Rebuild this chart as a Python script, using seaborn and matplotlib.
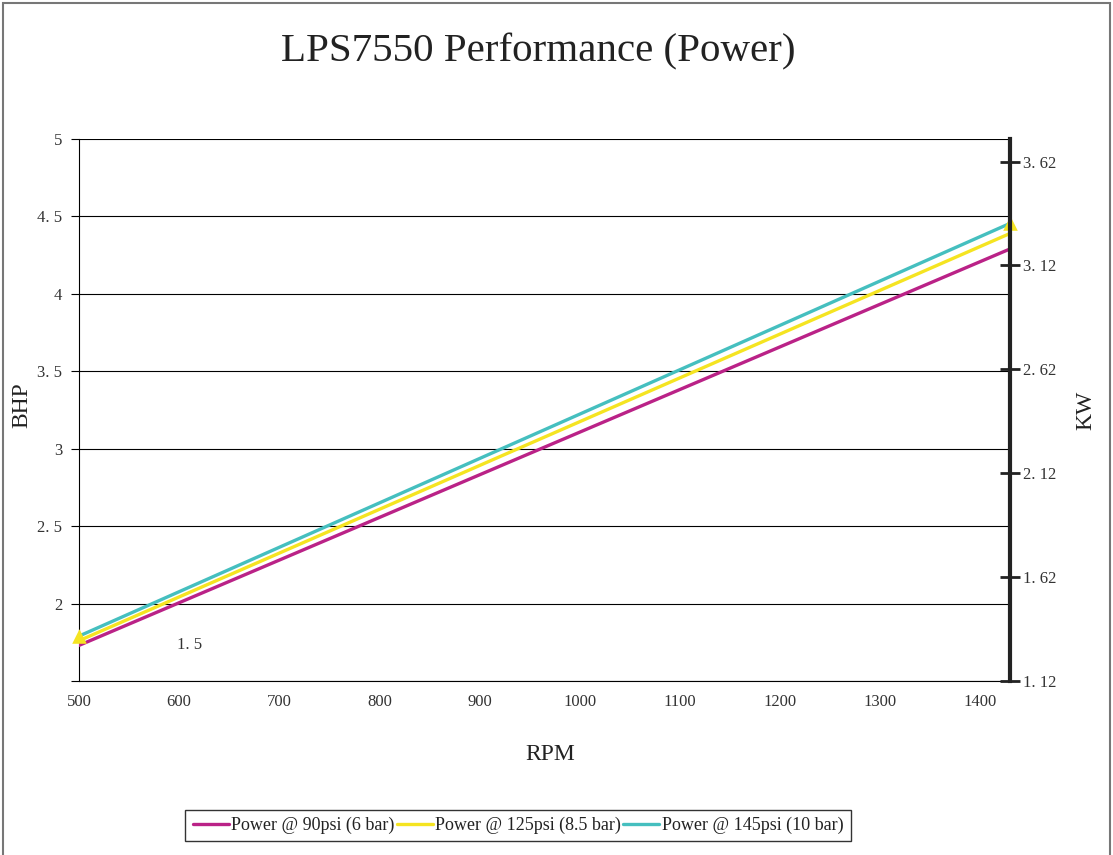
import numpy as np
import pandas as pd
import matplotlib
matplotlib.use("Agg")
import matplotlib.pyplot as plt
from matplotlib.patches import Rectangle
from matplotlib.lines import Line2D
import seaborn as sns

# ---- data ----
rpm = [500, 1400]
bhp_90psi = [1.73, 4.29]
bhp_125psi = [1.76, 4.39]
bhp_145psi = [1.79, 4.455]
series_names = ["Power @ 90psi (6 bar)", "Power @ 125psi (8.5 bar)", "Power @ 145psi (10 bar)"]

x_ticks = [500, 600, 700, 800, 900, 1000, 1100, 1200, 1300, 1400]
x_tick_labels = ["500", "600", "700", "800", "900", "1000", "1100", "1200", "1300", "1400"]
bhp_ticks = [1.5, 2, 2.5, 3, 3.5, 4, 4.5, 5]
bhp_tick_labels = ["", "2", "2. 5", "3", "3. 5", "4", "4. 5", "5"]
kw_ticks = [1.12, 1.62, 2.12, 2.62, 3.12, 3.62]
kw_tick_labels = ["1. 12", "1. 62", "2. 12", "2. 62", "3. 12", "3. 62"]
BHP_TO_KW = 0.7457

colors = ["#BA2287", "#F5E421", "#45BFBF"]

df = pd.DataFrame({
    "RPM": rpm * 3,
    "BHP": bhp_90psi + bhp_125psi + bhp_145psi,
    "Series": [series_names[0]] * 2 + [series_names[1]] * 2 + [series_names[2]] * 2,
})

sns.set_theme(style="white")
plt.rcParams['font.family'] = ['Liberation Serif', 'DejaVu Serif']

W, H = 1113, 855
fig = plt.figure(figsize=(W / 100, H / 100), dpi=100)
ax = fig.add_axes([79 / W, 1 - 681 / H, (1010 - 79) / W, (681 - 139) / H])

sns.lineplot(data=df, x="RPM", y="BHP", hue="Series", hue_order=series_names,
             palette=colors, linewidth=2.4, ax=ax, legend=False, zorder=3)
ax.scatter([rpm[0], rpm[-1]], [bhp_145psi[0], bhp_145psi[-1]], marker="^", s=110,
           color="#F5E421", zorder=5, clip_on=False, linewidths=0)

ax.set_xlim(500, 1400)
ax.set_ylim(1.5, 5)
ax.set_yticks(bhp_ticks)
ax.set_yticklabels(bhp_tick_labels)
ax.grid(axis="y", color="black", linewidth=0.8)
ax.grid(axis="x", visible=False)

# x ticks: marks at data positions, labels slightly shifted as in the original
ax.xaxis.remove_overlapping_locs = False
ax.set_xticks(x_ticks)
ax.set_xticklabels([""] * len(x_ticks))
label_pos = [500 + k * 96.8 for k in range(len(x_tick_labels))]
ax.set_xticks(label_pos, minor=True)
ax.set_xticklabels(x_tick_labels, minor=True)
ax.tick_params(axis="x", which="major", direction="out", length=5, width=0.8, color="black")
ax.tick_params(axis="x", which="minor", length=0, pad=9, labelsize=12, labelcolor="#333333")
ax.tick_params(axis="y", direction="out", length=6, width=0.8, color="black",
               labelsize=12, labelcolor="#333333", pad=6)
ax.set_xlabel("")
ax.set_ylabel("")

for s in ["top", "right"]:
    ax.spines[s].set_visible(False)
for s in ["left", "bottom"]:
    ax.spines[s].set_color("black")
    ax.spines[s].set_linewidth(0.8)

# right axis in kW
ax2 = ax.twinx()
ax2.set_ylim(1.5 * BHP_TO_KW, 5 * BHP_TO_KW)
ax2.set_yticks(kw_ticks)
ax2.set_yticklabels(kw_tick_labels)
ax2.tick_params(axis="y", direction="inout", length=14, width=2, color="#222222",
                labelsize=12, labelcolor="#333333", pad=2)
for s in ["top", "left", "bottom"]:
    ax2.spines[s].set_visible(False)
ax2.spines["right"].set_color("#222222")
ax2.spines["right"].set_linewidth(3)
ax2.grid(False)

# stray "1.5" label inside plot
ax.text(607, 1.73, "1. 5", fontsize=12, color="#333333", ha="center", va="center")

# titles / labels
fig.text(538 / W, 1 - 52 / H, "LPS7550 Performance (Power)", fontsize=29.5,
         ha="center", va="center", color="#222222")
fig.text(550 / W, 1 - 754 / H, "RPM", fontsize=17, ha="center", va="center", color="#222222")
fig.text(22 / W, 1 - 405 / H, "BHP", fontsize=17, ha="center", va="center",
         rotation=90, color="#222222")
fig.text(1086 / W, 1 - 410 / H, "KW", fontsize=17, ha="center", va="center",
         rotation=90, color="#222222")

# legend
handles = [Line2D([], [], color=c, lw=2.4) for c in colors]
leg = fig.legend(handles, series_names, loc="center", bbox_to_anchor=(518 / W, 1 - 825.5 / H),
                 ncol=3, frameon=True, fancybox=False, edgecolor="black", fontsize=13,
                 handlelength=2.0, handletextpad=0.15, columnspacing=0.1, borderpad=0.4,
                 borderaxespad=0)
leg.get_frame().set_linewidth(1.0)
for t in leg.get_texts():
    t.set_color("#222222")

# outer chart border
fig.patches.append(Rectangle((3 / W, -0.01), (1110 - 3) / W, 1.01 - 3 / H,
                             transform=fig.transFigure, fill=False,
                             edgecolor="#777777", linewidth=1.5))

fig.savefig("out.png", dpi=100)
